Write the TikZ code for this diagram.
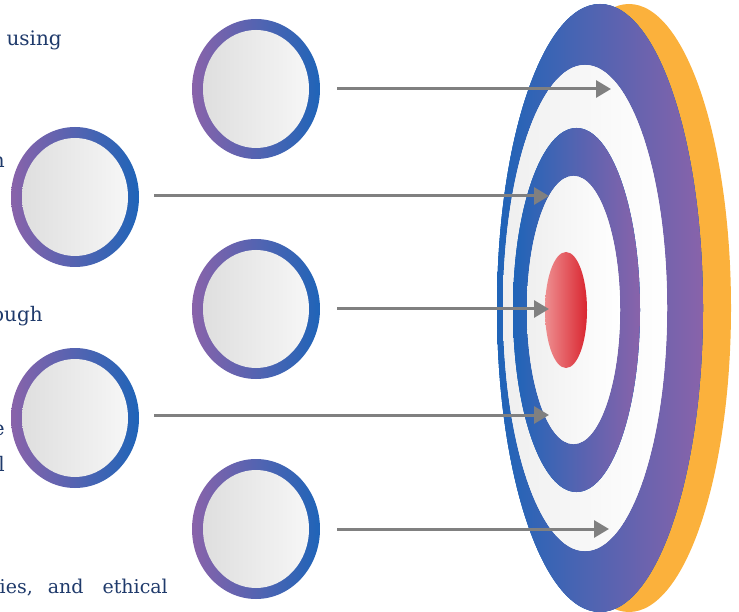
\documentclass[tikz,border=0pt]{standalone}
\usepackage{fontspec}
\setmainfont{DejaVu Serif}
\usetikzlibrary{arrows.meta,shapes.geometric}
\definecolor{navy}{HTML}{1F3A6B}
\definecolor{tblue}{HTML}{1F64B8}
\definecolor{tpurple}{HTML}{8963AA}
\definecolor{lgray}{HTML}{DCDCDC}
\definecolor{lwhite}{HTML}{F9F9F9}
\definecolor{wring}{HTML}{EFEFEF}
\definecolor{pinkred}{HTML}{EE8E90}
\definecolor{dred}{HTML}{D92630}
\definecolor{orng}{HTML}{FBB13C}
\definecolor{arrgray}{HTML}{808080}
\begin{document}
\begin{tikzpicture}[x=1pt,y=-1pt,
  bubble/.style={ellipse, minimum width=128pt, minimum height=140pt, inner sep=0pt,
    left color=tpurple, right color=tblue,
    path picture={\shade[left color=lgray,right color=lwhite]
      (path picture bounding box.center) ellipse [x radius=53pt,y radius=59pt];}},
  arr/.style={draw=arrgray, line width=3pt, -{Triangle[length=15pt,width=17pt]}},
  lbl/.style={font=\fontsize{20}{24}\selectfont, text=navy, inner sep=0pt},
  ringband/.style={fill=tblue, left color=tblue, right color=tpurple},
  ringwhite/.style={fill=wring, left color=wring, right color=white}
  ]
\useasboundingbox (0,0) rectangle (739,612);

% target (solid fill under each shading keeps the thin edges clean)
\fill[orng] (629,308) ellipse [x radius=102pt, y radius=304pt];
\fill[tblue] (600,308) ellipse [x radius=103pt, y radius=304pt];
\shade[ringband] (600,308) ellipse [x radius=103pt, y radius=304pt];
\fill[wring] (585,308) ellipse [x radius=82pt, y radius=243pt];
\shade[ringwhite] (585,308) ellipse [x radius=82pt, y radius=243pt];
\fill[tblue] (576.5,310) ellipse [x radius=63.5pt, y radius=182pt];
\shade[ringband] (576.5,310) ellipse [x radius=63.5pt, y radius=182pt];
\fill[wring] (573.5,310) ellipse [x radius=46.5pt, y radius=134pt];
\shade[ringwhite] (573.5,310) ellipse [x radius=46.5pt, y radius=134pt];
\shade[left color=pinkred, right color=dred] (566,310) ellipse [x radius=21pt, y radius=58pt];

% arrow end points
\coordinate (t1) at (611,89);
\coordinate (t2) at (549,196);
\coordinate (t3) at (549,309);
\coordinate (t4) at (549,415);
\coordinate (t5) at (609,529);

% circles
\node[bubble] (c1) at (256,89) {};
\node[bubble] (c2) at (75,197) {};
\node[bubble] (c3) at (256,309) {};
\node[bubble] (c4) at (75,418) {};
\node[bubble] (c5) at (256,529) {};

% arrows
\draw[arr] ([xshift=17pt]c1.east) -- (t1);
\draw[arr] ([xshift=15pt,yshift=1pt]c2.east) -- (t2);
\draw[arr] ([xshift=17pt]c3.east) -- (t3);
\draw[arr] ([xshift=15pt,yshift=3pt]c4.east) -- (t4);
\draw[arr] ([xshift=17pt]c5.east) -- (t5);

% text fragments
\node[lbl, anchor=base east] (l1) at (62,46) {using};
\node[lbl, anchor=base east] (l2) at (5,168) {n};
\node[lbl, anchor=base east] (l3) at (43,322) {ough};
\node[lbl, anchor=base east] (l4) at (5,435) {e};
\node[lbl, anchor=base east] (l5) at (5,471) {l};
\node[lbl, font=\fontsize{19}{23}\selectfont, anchor=base east] (l6) at (168,593) {ies,\hspace{15pt}and\hspace{19pt}ethical};
\end{tikzpicture}
\end{document}
